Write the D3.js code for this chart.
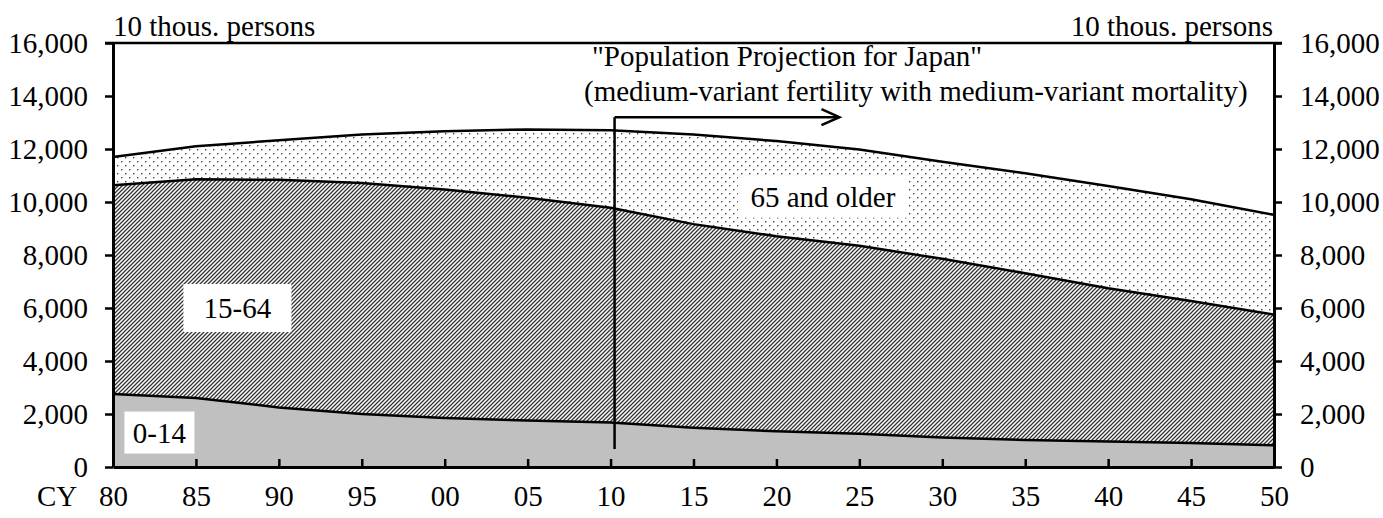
<!DOCTYPE html>
<html>
<head>
<meta charset="utf-8">
<script src="https://cdnjs.cloudflare.com/ajax/libs/d3/7.8.5/d3.min.js"></script>
<style>
  body { margin: 0; background: #fff; }
</style>
</head>
<body>
<div id="chart"></div>
<script>
// population by age group, 10 thousand persons
const years = [1980, 1985, 1990, 1995, 2000, 2005, 2010, 2015, 2020, 2025, 2030, 2035, 2040, 2045, 2050];
const yearLabels = ['80', '85', '90', '95', '00', '05', '10', '15', '20', '25', '30', '35', '40', '45', '50'];
const age0to14 = [2751, 2603, 2249, 2001, 1847, 1752, 1680, 1484, 1346, 1252, 1115, 1021, 959, 907, 821];
const age15to64 = [7884, 8251, 8590, 8716, 8622, 8409, 8103, 7681, 7363, 7096, 6740, 6292, 5787, 5353, 4930];
const age65plus = [1065, 1247, 1489, 1826, 2204, 2576, 2925, 3378, 3590, 3635, 3667, 3773, 3855, 3841, 3764];
const yTicks = [0, 2000, 4000, 6000, 8000, 10000, 12000, 14000, 16000];
const projectionStart = 2010;

document.addEventListener('DOMContentLoaded', function () {
  const w = 1383, h = 518;
  const left = 113, right = 1274, top = 43, bottom = 467;
  const fs = 29;
  const font = '"Liberation Serif", "Times New Roman", Times, serif';

  const svg = d3.select('#chart').append('svg')
    .attr('width', w)
    .attr('height', h);

  const defs = svg.append('defs');

  // dotted fill for 65 and older
  const dots = defs.append('pattern')
    .attr('id', 'dots')
    .attr('patternUnits', 'userSpaceOnUse')
    .attr('width', 8).attr('height', 8);
  dots.append('rect').attr('width', 8).attr('height', 8).attr('fill', '#fff');
  dots.append('rect').attr('x', 1).attr('y', 1).attr('width', 1.4).attr('height', 1.4).attr('fill', '#444');
  dots.append('rect').attr('x', 5).attr('y', 5).attr('width', 1.4).attr('height', 1.4).attr('fill', '#444');

  // diagonal hatch for 15-64
  const hatch = defs.append('pattern')
    .attr('id', 'hatch')
    .attr('patternUnits', 'userSpaceOnUse')
    .attr('width', 4).attr('height', 4);
  hatch.append('rect').attr('width', 4).attr('height', 4).attr('fill', '#fff');
  hatch.append('path')
    .attr('d', 'M-1,1 l2,-2 M0,4 l4,-4 M3,5 l2,-2')
    .attr('stroke', '#333')
    .attr('stroke-width', 1.3);

  const data = years.map((y, i) => ({
    year: y,
    young: age0to14[i],
    working: age15to64[i],
    old: age65plus[i]
  }));

  const series = d3.stack().keys(['young', 'working', 'old'])(data);

  const xScale = d3.scaleLinear()
    .domain([years[0], years[years.length - 1]])
    .range([left, right]);

  const yScale = d3.scaleLinear()
    .domain([0, 16000])
    .range([bottom, top]);

  const fills = ['#c0c0c0', 'url(#hatch)', 'url(#dots)'];

  const area = d3.area()
    .x(d => xScale(d.data.year))
    .y0(d => yScale(d[0]))
    .y1(d => yScale(d[1]));

  const line = d3.line()
    .x(d => xScale(d.data.year))
    .y(d => yScale(d[1]));

  svg.selectAll('.band')
    .data(series)
    .enter()
    .append('path')
    .attr('class', 'band')
    .attr('d', area)
    .attr('fill', (d, i) => fills[i]);

  svg.selectAll('.edge')
    .data(series)
    .enter()
    .append('path')
    .attr('class', 'edge')
    .attr('d', line)
    .attr('fill', 'none')
    .attr('stroke', '#000')
    .attr('stroke-width', 2.5);

  // axes
  const yAxisL = d3.axisLeft(yScale)
    .tickValues(yTicks)
    .tickFormat(d3.format(','))
    .tickSize(8)
    .tickSizeOuter(0)
    .tickPadding(17);

  const yAxisR = d3.axisRight(yScale)
    .tickValues(yTicks)
    .tickFormat(d3.format(','))
    .tickSize(8)
    .tickSizeOuter(0)
    .tickPadding(18);

  const xAxis = d3.axisBottom(xScale)
    .tickValues(years)
    .tickFormat((d, i) => yearLabels[i])
    .tickSize(-8)
    .tickSizeOuter(0)
    .tickPadding(18);

  const gl = svg.append('g')
    .attr('transform', 'translate(' + left + ',0)')
    .call(yAxisL);
  const gr = svg.append('g')
    .attr('transform', 'translate(' + right + ',0)')
    .call(yAxisR);
  const gx = svg.append('g')
    .attr('transform', 'translate(0,' + bottom + ')')
    .call(xAxis);

  [gl, gr, gx].forEach(g => {
    g.attr('font-family', null).attr('font-size', null);
    g.selectAll('text')
      .style('font-family', font)
      .style('font-size', fs + 'px')
      .attr('fill', '#000');
    g.selectAll('line').attr('stroke', '#000').attr('stroke-width', 2.5);
    g.select('.domain').attr('stroke', '#000').attr('stroke-width', 3);
  });

  // top border line
  svg.append('line')
    .attr('x1', left - 8).attr('x2', right + 8)
    .attr('y1', yScale(16000)).attr('y2', yScale(16000))
    .attr('stroke', '#000')
    .attr('stroke-width', 2.5);

  function addText(x, y, str, anchor) {
    return svg.append('text')
      .attr('x', x).attr('y', y)
      .attr('text-anchor', anchor || 'start')
      .style('font-family', font)
      .style('font-size', fs + 'px')
      .attr('fill', '#000')
      .text(str);
  }

  addText(37, 506, 'CY');
  addText(left, 36, '10 thous. persons');
  addText(right - 1, 36, '10 thous. persons', 'end');

  // band labels with white boxes
  const labels = [
    { text: '65 and older', year: 2022.8, value: 10200, w: 170, h: 42 },
    { text: '15-64', year: 1987.5, value: 6000, w: 108, h: 48 },
    { text: '0-14', year: 1982.8, value: 1300, w: 70, h: 42 }
  ];
  labels.forEach(l => {
    const cx = xScale(l.year), cy = yScale(l.value);
    svg.append('rect')
      .attr('x', cx - l.w / 2).attr('y', cy - l.h / 2)
      .attr('width', l.w).attr('height', l.h)
      .attr('fill', '#fff');
    addText(cx, cy, l.text, 'middle').attr('dy', '0.35em');
  });

  // projection marker
  const px = xScale(projectionStart) + 4;
  const ay = yScale(13200);
  const tipX = xScale(2023.8);
  svg.append('line')
    .attr('x1', px).attr('x2', px)
    .attr('y1', ay).attr('y2', yScale(680))
    .attr('stroke', '#000').attr('stroke-width', 2.5);
  svg.append('line')
    .attr('x1', px).attr('x2', tipX)
    .attr('y1', ay).attr('y2', ay)
    .attr('stroke', '#000').attr('stroke-width', 2.5);
  svg.append('path')
    .attr('d', 'M' + (tipX - 18) + ',' + (ay - 8) + ' L' + tipX + ',' + ay + ' L' + (tipX - 18) + ',' + (ay + 8))
    .attr('fill', 'none')
    .attr('stroke', '#000').attr('stroke-width', 2.5);

  addText(592, 66, '"Population Projection for Japan"');
  addText(584, 101, '(medium-variant fertility with medium-variant mortality)');
});
</script>
</body>
</html>
